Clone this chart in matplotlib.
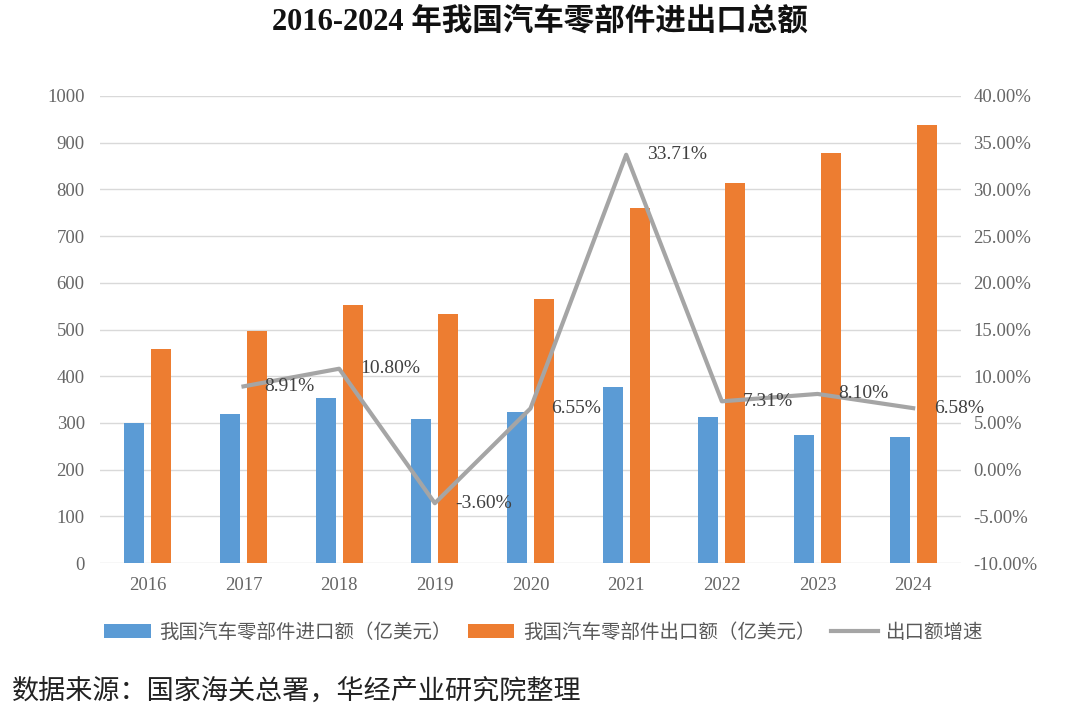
import matplotlib
matplotlib.use("Agg")
import matplotlib.pyplot as plt
import numpy as np

# data
years = ["2016", "2017", "2018", "2019", "2020", "2021", "2022", "2023", "2024"]
imports = [300, 319, 353, 308, 323, 377, 313, 274, 270]
exports = [458, 497, 552, 533, 565, 760, 814, 878, 938]
growth_years = ["2017", "2018", "2019", "2020", "2021", "2022", "2023", "2024"]
growth = [8.91, 10.80, -3.60, 6.55, 33.71, 7.31, 8.10, 6.58]

left_ticks = list(range(0, 1001, 100))
right_ticks = list(range(-10, 41, 5))

title = "2016-2024 年我国汽车零部件进出口总额"
import_label = "我国汽车零部件进口额（亿美元）"
export_label = "我国汽车零部件出口额（亿美元）"
growth_label = "出口额增速"
source = "数据来源：国家海关总署，华经产业研究院整理"

BLUE = "#5B9BD5"
ORANGE = "#ED7D31"
GRAY = "#A5A5A5"
SERIF = ["Liberation Serif", "Noto Sans CJK SC"]
CJK = ["Noto Sans CJK SC", "DejaVu Sans"]

fig = plt.figure(figsize=(10.8, 7.06), dpi=100)
ax = fig.add_axes([100 / 1080, 1 - 563 / 706, 861 / 1080, (563 - 96) / 706])

x = np.arange(len(years))
b1 = ax.bar(x - 0.14, imports, width=0.21, color=BLUE, label=import_label, zorder=2)
b2 = ax.bar(x + 0.14, exports, width=0.21, color=ORANGE, label=export_label, zorder=2)

ax.set_xlim(-0.5, len(years) - 0.5)
ax.set_ylim(0, 1000)
ax.set_yticks(left_ticks)
ax.set_xticks(x)
ax.set_xticklabels(years)
ax.grid(axis="y", color="#D9D9D9", lw=1, zorder=0)
ax.set_axisbelow(True)
for s in ax.spines.values():
    s.set_visible(False)
ax.tick_params(axis="both", length=0, labelsize=13.5, labelcolor="#666666")
ax.tick_params(axis="y", pad=11)
ax.tick_params(axis="x", pad=10)
for lab in ax.get_xticklabels() + ax.get_yticklabels():
    lab.set_family(SERIF)

ax2 = ax.twinx()
gx = [years.index(y) for y in growth_years]
ln, = ax2.plot(gx, growth, color=GRAY, lw=3, label=growth_label, zorder=3)
ax2.set_ylim(-10, 40)
ax2.set_yticks(right_ticks)
ax2.set_yticklabels([f"{t:.2f}%" for t in right_ticks])
for s in ax2.spines.values():
    s.set_visible(False)
ax2.tick_params(axis="y", length=0, labelsize=13.5, labelcolor="#666666", pad=9)
for lab in ax2.get_yticklabels():
    lab.set_family(SERIF)

for xi, g in zip(gx, growth):
    ax2.annotate(f"{g:.2f}%", (xi, g), xytext=(15, 0), textcoords="offset points",
                 ha="left", va="center", fontsize=14, color="#404040",
                 family=SERIF, zorder=4)

fig.text(0.5, 1 - 22 / 706, title, ha="center", va="center", fontsize=22,
         fontweight="bold", family=SERIF, color="#111111")

leg = fig.legend([b1, b2, ln], [import_label, export_label, growth_label],
                 loc="center", bbox_to_anchor=(544 / 1080, 1 - 632 / 706), ncol=3,
                 frameon=False, handlelength=2.4, handleheight=0.7,
                 handletextpad=0.45, columnspacing=0.8,
                 prop={"family": CJK, "size": 14})
for t in leg.get_texts():
    t.set_color("#595959")

fig.text(12 / 1080, 1 - 691 / 706, source, ha="left", va="center", fontsize=19.5,
         family=CJK, color="#222222")

fig.savefig("out.png", dpi=100)
